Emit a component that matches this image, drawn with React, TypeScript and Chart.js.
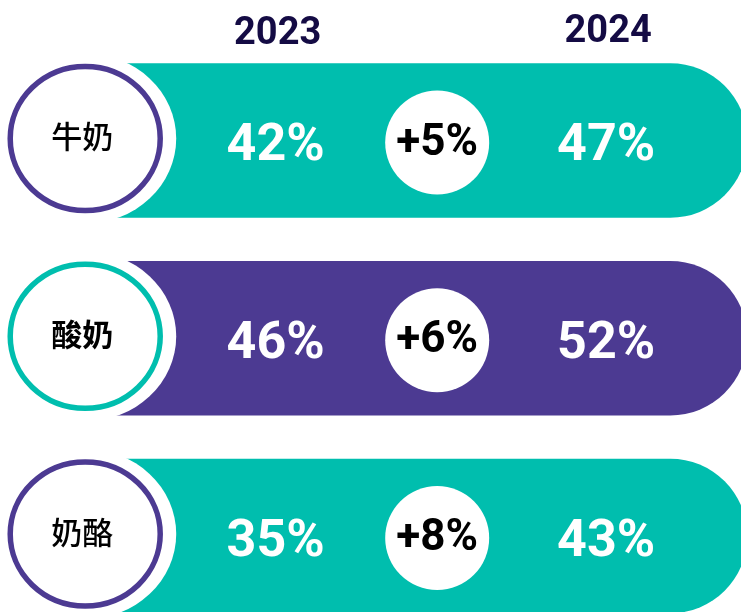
import React, { useEffect, useRef } from "react";
import { Chart, registerables } from "chart.js";

Chart.register(...registerables);

// ---- data ----
const CATEGORIES = ["牛奶", "酸奶", "奶酪"];
const YEARS = ["2023", "2024"];
const VALUES_2023 = [42, 46, 35];
const VALUES_2024 = [47, 52, 43];
const CHANGE = [5, 6, 8];

// ---- layout (in x-scale units 0..100) ----
const TRACK_START = 15;
const TRACK_END = 100.8;
const LABEL_X = 11.5;
const COL_2023 = 37.2;
const COL_BUBBLE = 59.0;
const COL_2024 = 81.8;

// ---- styles ----
const TEAL = "#00BEAE";
const PURPLE = "#4C3A92";
const BAR_COLORS = [TEAL, PURPLE, TEAL];
const RING_COLORS = [PURPLE, TEAL, PURPLE];
const LABEL_WEIGHTS = ["500", "700", "500"];
const HEADER_COLOR = "#140B44";

const decorPlugin = {
  id: "decor",
  afterDatasetsDraw(chart: any) {
    const ctx = chart.ctx as CanvasRenderingContext2D;
    const xs = chart.scales.x;
    const ys = chart.scales.y;
    ctx.save();
    CATEGORIES.forEach((cat, i) => {
      const cy = ys.getPixelForValue(i);
      const lx = xs.getPixelForValue(LABEL_X);
      // white halo
      ctx.fillStyle = "#ffffff";
      ctx.beginPath();
      ctx.ellipse(lx, cy - 2, 91, 85, 0, 0, Math.PI * 2);
      ctx.fill();
      // ring
      ctx.strokeStyle = RING_COLORS[i];
      ctx.lineWidth = 5.5;
      ctx.beginPath();
      ctx.ellipse(lx, cy - 2, 75, 72, 0, 0, Math.PI * 2);
      ctx.stroke();
      // label
      ctx.fillStyle = "#000000";
      ctx.font = `${LABEL_WEIGHTS[i]} 31px "Noto Sans CJK SC"`;
      ctx.textAlign = "center";
      ctx.textBaseline = "middle";
      ctx.fillText(cat, lx - 3, cy - 4);

      // values
      ctx.fillStyle = "#ffffff";
      ctx.font = `bold 52px Roboto`;
      ctx.textBaseline = "alphabetic";
      ctx.fillText(`${VALUES_2023[i]}%`, xs.getPixelForValue(COL_2023), cy + 19.5);
      ctx.fillText(`${VALUES_2024[i]}%`, xs.getPixelForValue(COL_2024), cy + 19.5);

      // bubble
      const bx = xs.getPixelForValue(COL_BUBBLE);
      ctx.fillStyle = "#ffffff";
      ctx.beginPath();
      ctx.arc(bx, cy + 2, 52, 0, Math.PI * 2);
      ctx.fill();
      ctx.fillStyle = "#000000";
      ctx.font = `bold 44px Roboto`;
      ctx.fillText(`+${CHANGE[i]}%`, bx, cy + 14);
    });
    // headers
    const topY = ys.getPixelForValue(0) - 98;
    ctx.fillStyle = HEADER_COLOR;
    ctx.font = `bold 38px Roboto`;
    ctx.textAlign = "center";
    ctx.textBaseline = "alphabetic";
    ctx.fillText(YEARS[0], xs.getPixelForValue(COL_2023) + 2, topY + 1);
    ctx.fillText(YEARS[1], xs.getPixelForValue(COL_2024) + 2, topY - 1);
    ctx.restore();
  },
};

export default function App() {
  const ref = useRef<HTMLCanvasElement | null>(null);
  useEffect(() => {
    document.body.style.margin = "0";
    if (!ref.current) return;
    const chart = new Chart(ref.current, {
      type: "bar",
      data: {
        labels: CATEGORIES,
        datasets: [
          {
            data: CATEGORIES.map(() => [TRACK_START, TRACK_END]) as any,
            backgroundColor: BAR_COLORS,
            borderWidth: 0,
            borderSkipped: false,
            borderRadius: { topLeft: 0, bottomLeft: 0, topRight: 77, bottomRight: 77 },
            barThickness: 154,
            clip: false as any,
          },
        ],
      },
      options: {
        indexAxis: "y",
        animation: false,
        responsive: false,
        maintainAspectRatio: false,
        layout: { padding: { top: 140.5, bottom: 76, left: 0, right: 0 } },
        scales: {
          x: { type: "linear", min: 0, max: 100, display: false },
          y: { type: "category", offset: false, display: false, grid: { display: false } },
        },
        plugins: { legend: { display: false }, tooltip: { enabled: false } },
      },
      plugins: [decorPlugin],
    });
    return () => chart.destroy();
  }, []);
  return (
    <div style={{ width: 741, height: 612, background: "#fff" }}>
      <canvas ref={ref} width={741} height={612} style={{ display: "block", width: 741, height: 612 }} />
    </div>
  );
}
